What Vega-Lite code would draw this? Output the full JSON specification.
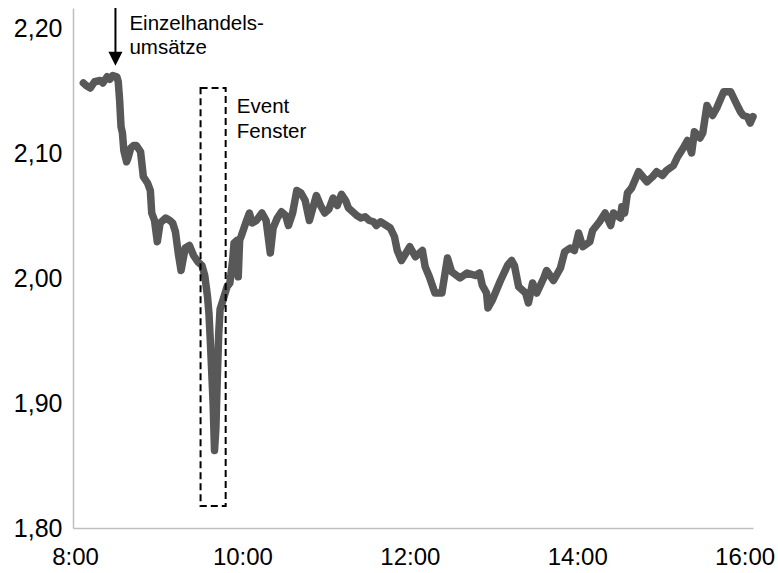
{
  "$schema": "https://vega.github.io/schema/vega-lite/v6.json",
  "width": 680,
  "height": 520,
  "autosize": "none",
  "padding": {"left": 73, "top": 8, "right": 25, "bottom": 45},
  "background": "white",
  "config": {"view": {"stroke": null}, "font": "Liberation Sans"},
  "datasets": {
    "price": [
      {"t": "08:06", "v": 2.156}, {"t": "08:08", "v": 2.154}, {"t": "08:11", "v": 2.152}, {"t": "08:14", "v": 2.157},
      {"t": "08:18", "v": 2.158}, {"t": "08:20", "v": 2.156}, {"t": "08:23", "v": 2.161}, {"t": "08:25", "v": 2.159},
      {"t": "08:27", "v": 2.162}, {"t": "08:30", "v": 2.161}, {"t": "08:31", "v": 2.157}, {"t": "08:32", "v": 2.142},
      {"t": "08:33", "v": 2.121}, {"t": "08:34", "v": 2.116}, {"t": "08:35", "v": 2.102}, {"t": "08:37", "v": 2.093},
      {"t": "08:38", "v": 2.096}, {"t": "08:40", "v": 2.104}, {"t": "08:42", "v": 2.106}, {"t": "08:44", "v": 2.106},
      {"t": "08:47", "v": 2.101}, {"t": "08:49", "v": 2.081}, {"t": "08:52", "v": 2.076}, {"t": "08:54", "v": 2.070},
      {"t": "08:55", "v": 2.052}, {"t": "08:57", "v": 2.046}, {"t": "08:59", "v": 2.029}, {"t": "09:01", "v": 2.044},
      {"t": "09:05", "v": 2.048}, {"t": "09:08", "v": 2.046}, {"t": "09:10", "v": 2.044}, {"t": "09:12", "v": 2.037},
      {"t": "09:14", "v": 2.020}, {"t": "09:16", "v": 2.006}, {"t": "09:19", "v": 2.024}, {"t": "09:22", "v": 2.026},
      {"t": "09:25", "v": 2.018}, {"t": "09:28", "v": 2.013}, {"t": "09:31", "v": 2.010}, {"t": "09:33", "v": 2.002},
      {"t": "09:35", "v": 1.985}, {"t": "09:36", "v": 1.972}, {"t": "09:37", "v": 1.950}, {"t": "09:38", "v": 1.925},
      {"t": "09:39", "v": 1.900}, {"t": "09:40", "v": 1.862}, {"t": "09:41", "v": 1.880}, {"t": "09:42", "v": 1.920},
      {"t": "09:43", "v": 1.955}, {"t": "09:44", "v": 1.975}, {"t": "09:46", "v": 1.982}, {"t": "09:49", "v": 1.993},
      {"t": "09:51", "v": 1.996}, {"t": "09:53", "v": 2.014}, {"t": "09:54", "v": 2.028}, {"t": "09:56", "v": 2.030},
      {"t": "09:57", "v": 2.001}, {"t": "09:58", "v": 2.030}, {"t": "09:59", "v": 2.033}, {"t": "10:03", "v": 2.046},
      {"t": "10:05", "v": 2.052}, {"t": "10:07", "v": 2.044}, {"t": "10:10", "v": 2.046}, {"t": "10:14", "v": 2.052},
      {"t": "10:17", "v": 2.046}, {"t": "10:20", "v": 2.020}, {"t": "10:22", "v": 2.040}, {"t": "10:25", "v": 2.048},
      {"t": "10:28", "v": 2.053}, {"t": "10:31", "v": 2.050}, {"t": "10:33", "v": 2.042}, {"t": "10:36", "v": 2.052},
      {"t": "10:39", "v": 2.070}, {"t": "10:42", "v": 2.068}, {"t": "10:45", "v": 2.062}, {"t": "10:48", "v": 2.046},
      {"t": "10:51", "v": 2.058}, {"t": "10:53", "v": 2.066}, {"t": "10:56", "v": 2.058}, {"t": "10:59", "v": 2.052},
      {"t": "11:02", "v": 2.055}, {"t": "11:05", "v": 2.064}, {"t": "11:08", "v": 2.058}, {"t": "11:11", "v": 2.067},
      {"t": "11:14", "v": 2.062}, {"t": "11:16", "v": 2.056}, {"t": "11:19", "v": 2.053}, {"t": "11:22", "v": 2.050},
      {"t": "11:25", "v": 2.048}, {"t": "11:28", "v": 2.049}, {"t": "11:31", "v": 2.046}, {"t": "11:34", "v": 2.045},
      {"t": "11:36", "v": 2.042}, {"t": "11:39", "v": 2.045}, {"t": "11:46", "v": 2.040}, {"t": "11:49", "v": 2.033},
      {"t": "11:51", "v": 2.022}, {"t": "11:54", "v": 2.014}, {"t": "12:00", "v": 2.025}, {"t": "12:04", "v": 2.017},
      {"t": "12:09", "v": 2.022}, {"t": "12:11", "v": 2.009}, {"t": "12:14", "v": 2.001}, {"t": "12:18", "v": 1.988},
      {"t": "12:23", "v": 1.988}, {"t": "12:27", "v": 2.016}, {"t": "12:30", "v": 2.005}, {"t": "12:36", "v": 2.000},
      {"t": "12:41", "v": 2.004}, {"t": "12:47", "v": 2.002}, {"t": "12:50", "v": 2.004}, {"t": "12:52", "v": 1.994},
      {"t": "12:55", "v": 1.988}, {"t": "12:56", "v": 1.976}, {"t": "12:59", "v": 1.982}, {"t": "13:05", "v": 1.998},
      {"t": "13:10", "v": 2.010}, {"t": "13:13", "v": 2.014}, {"t": "13:15", "v": 2.010}, {"t": "13:18", "v": 1.993},
      {"t": "13:23", "v": 1.988}, {"t": "13:25", "v": 1.980}, {"t": "13:28", "v": 1.996}, {"t": "13:31", "v": 1.988},
      {"t": "13:36", "v": 2.000}, {"t": "13:38", "v": 2.006}, {"t": "13:43", "v": 1.998}, {"t": "13:48", "v": 2.008},
      {"t": "13:51", "v": 2.021}, {"t": "13:55", "v": 2.024}, {"t": "13:58", "v": 2.022}, {"t": "14:01", "v": 2.036},
      {"t": "14:04", "v": 2.025}, {"t": "14:09", "v": 2.029}, {"t": "14:11", "v": 2.038}, {"t": "14:16", "v": 2.045},
      {"t": "14:20", "v": 2.052}, {"t": "14:24", "v": 2.042}, {"t": "14:26", "v": 2.052}, {"t": "14:31", "v": 2.048},
      {"t": "14:32", "v": 2.057}, {"t": "14:34", "v": 2.052}, {"t": "14:36", "v": 2.068}, {"t": "14:39", "v": 2.072},
      {"t": "14:44", "v": 2.085}, {"t": "14:50", "v": 2.077}, {"t": "14:54", "v": 2.081}, {"t": "14:57", "v": 2.085},
      {"t": "15:01", "v": 2.082}, {"t": "15:04", "v": 2.086}, {"t": "15:09", "v": 2.090}, {"t": "15:12", "v": 2.097},
      {"t": "15:16", "v": 2.104}, {"t": "15:19", "v": 2.110}, {"t": "15:22", "v": 2.100}, {"t": "15:24", "v": 2.117},
      {"t": "15:28", "v": 2.112}, {"t": "15:30", "v": 2.116}, {"t": "15:33", "v": 2.138}, {"t": "15:37", "v": 2.130},
      {"t": "15:40", "v": 2.136}, {"t": "15:45", "v": 2.149}, {"t": "15:50", "v": 2.149}, {"t": "15:53", "v": 2.142},
      {"t": "15:57", "v": 2.133}, {"t": "15:59", "v": 2.130}, {"t": "16:02", "v": 2.129}, {"t": "16:04", "v": 2.124},
      {"t": "16:06", "v": 2.129}
    ],
    "arrow": [{"t": "08:29", "v": 2.216, "v2": 2.178}],
    "head": [{"t": "08:29", "v": 2.1755}],
    "box": [{"t": "09:30", "t2": "09:48", "v": 2.152, "v2": 1.8176}],
    "notes": [
      {"t": "08:39", "v": 2.1984, "label": "Einzelhandels-"},
      {"t": "08:39", "v": 2.1792, "label": "umsätze"},
      {"t": "09:56", "v": 2.132, "label": "Event"},
      {"t": "09:56", "v": 2.112, "label": "Fenster"}
    ]
  },
  "encoding": {
    "x": {
      "field": "t",
      "type": "temporal",
      "scale": {
        "domain": [
          {"year": 1900, "month": 1, "date": 1, "hours": 7, "minutes": 58, "seconds": 34},
          {"year": 1900, "month": 1, "date": 1, "hours": 16, "minutes": 6, "seconds": 0}
        ]
      },
      "axis": {
        "title": null,
        "values": [
          {"year": 1900, "month": 1, "date": 1, "hours": 8},
          {"year": 1900, "month": 1, "date": 1, "hours": 10},
          {"year": 1900, "month": 1, "date": 1, "hours": 12},
          {"year": 1900, "month": 1, "date": 1, "hours": 14},
          {"year": 1900, "month": 1, "date": 1, "hours": 16}
        ],
        "format": "%-H:%M",
        "labelFont": "Liberation Sans",
        "labelFontSize": 24,
        "labelColor": "#000000",
        "ticks": false,
        "tickSize": 0,
        "labelPadding": 17,
        "labelFlush": false,
        "labelOverlap": false,
        "grid": false,
        "domainColor": "#BFBFBF",
        "domainWidth": 1.5
      }
    },
    "y": {
      "field": "v",
      "type": "quantitative",
      "scale": {"domain": [1.8, 2.216], "nice": false, "zero": false},
      "axis": {
        "title": null,
        "values": [1.8, 1.9, 2.0, 2.1, 2.2],
        "labelExpr": "replace(format(datum.value, '.2f'), '.', ',')",
        "labelFont": "Liberation Sans",
        "labelFontSize": 25,
        "labelColor": "#000000",
        "ticks": false,
        "tickSize": 0,
        "labelPadding": 11,
        "labelOverlap": false,
        "labelFlush": false,
        "grid": false,
        "domainColor": "#BFBFBF",
        "domainWidth": 1.5
      }
    }
  },
  "layer": [
    {
      "data": {"name": "price", "format": {"parse": {"t": "date:'%H:%M'"}}},
      "mark": {"type": "line", "color": "#585858", "strokeWidth": 7.5, "strokeJoin": "round", "strokeCap": "round"}
    },
    {
      "data": {"name": "box", "format": {"parse": {"t": "date:'%H:%M'", "t2": "date:'%H:%M'"}}},
      "mark": {"type": "rect", "fill": "white", "fillOpacity": 0, "stroke": "#000000", "strokeWidth": 2, "strokeDash": [7, 4]},
      "encoding": {"x2": {"field": "t2"}, "y2": {"field": "v2"}}
    },
    {
      "data": {"name": "arrow", "format": {"parse": {"t": "date:'%H:%M'"}}},
      "mark": {"type": "rule", "color": "#000000", "strokeWidth": 2},
      "encoding": {"y2": {"field": "v2"}}
    },
    {
      "data": {"name": "head", "format": {"parse": {"t": "date:'%H:%M'"}}},
      "mark": {"type": "point", "shape": "M-1,-1L1,-1L0,1Z", "size": 196, "filled": true, "color": "#000000", "opacity": 1, "strokeWidth": 0}
    },
    {
      "data": {"name": "notes", "format": {"parse": {"t": "date:'%H:%M'"}}},
      "mark": {"type": "text", "align": "left", "baseline": "alphabetic", "font": "Liberation Sans", "fontSize": 20.5, "color": "#000000"},
      "encoding": {"text": {"field": "label"}}
    }
  ]
}
